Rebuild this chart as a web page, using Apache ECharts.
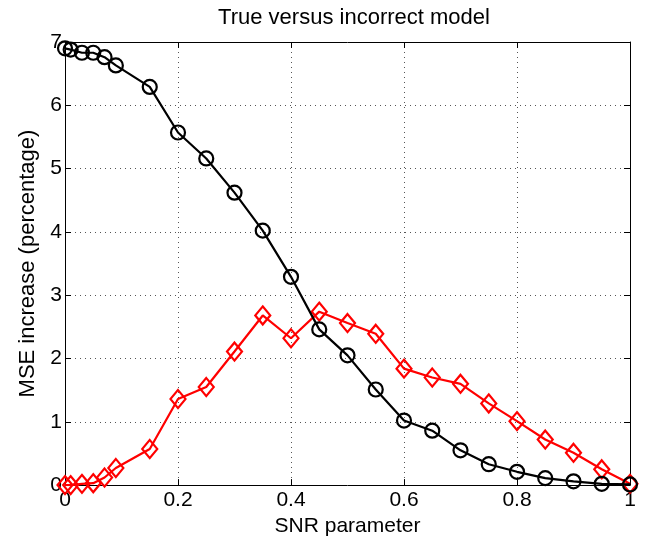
<!DOCTYPE html>
<html><head><meta charset="utf-8">
<script src="https://cdn.jsdelivr.net/npm/echarts@6/dist/echarts.min.js"></script>
<style>html,body{margin:0;padding:0;background:#fff}#c{width:645px;height:542px}</style>
</head><body><div id="c"></div>
<script>
const snr = [0, 0.01, 0.03, 0.05, 0.07, 0.09, 0.15, 0.2, 0.25, 0.3, 0.35, 0.4, 0.45, 0.5, 0.55, 0.6, 0.65, 0.7, 0.75, 0.8, 0.85, 0.9, 0.95, 1.0];
const trueModel = [6.90, 6.88, 6.83, 6.83, 6.76, 6.63, 6.29, 5.57, 5.16, 4.62, 4.02, 3.29, 2.46, 2.05, 1.51, 1.02, 0.86, 0.55, 0.33, 0.21, 0.11, 0.06, 0.02, 0.01];
const wrongModel = [0.00, 0.00, 0.02, 0.03, 0.12, 0.27, 0.57, 1.36, 1.55, 2.11, 2.68, 2.32, 2.74, 2.56, 2.39, 1.84, 1.70, 1.60, 1.29, 1.01, 0.72, 0.51, 0.25, 0.02];
const xTicks = [0, 0.2, 0.4, 0.6, 0.8, 1];

const font = 'Liberation Sans, Helvetica, Arial, sans-serif';
const chart = echarts.init(document.getElementById('c'));
const pair = (xs, ys) => xs.map((x, i) => [x, ys[i]]);
const diamond = 'path://M0,-1L0.8,0L0,1L-0.8,0Z';
chart.setOption({
  animation: false,
  title: { text: 'True versus incorrect model', left: 349, top: 2, textAlign: 'center',
    textStyle: { fontFamily: font, fontSize: 22, fontWeight: 'normal', color: '#000' } },
  grid: { left: 65, right: 15, top: 42, bottom: 54, containLabel: false },
  xAxis: [{
    type: 'value', min: 0, max: 1, interval: 0.2,
    name: 'SNR parameter', nameLocation: 'middle', nameGap: 30,
    nameTextStyle: { fontFamily: font, fontSize: 21, color: '#000' },
    axisLine: { onZero: false, lineStyle: { color: '#000', width: 1 } },
    axisTick: { inside: true, length: 6, lineStyle: { color: '#000' } },
    axisLabel: { fontFamily: font, fontSize: 21, color: '#000', margin: 5,
      formatter: v => String(+v.toFixed(1)) },
    splitLine: { show: true, lineStyle: { color: '#555', type: [1, 4], width: 1 } }
  }, {
    type: 'value', min: 0, max: 1, interval: 0.2, position: 'top',
    axisLine: { onZero: false, lineStyle: { color: '#000', width: 1 } },
    axisTick: { inside: true, length: 6, lineStyle: { color: '#000' } },
    axisLabel: { show: false }, splitLine: { show: false }
  }],
  yAxis: [{
    type: 'value', min: 0, max: 7, interval: 1,
    name: 'MSE increase (percentage)', nameLocation: 'middle', nameGap: 19,
    nameTextStyle: { fontFamily: font, fontSize: 22, color: '#000' },
    axisLine: { show: true, onZero: false, lineStyle: { color: '#000', width: 1 } },
    axisTick: { show: true, inside: true, length: 6, lineStyle: { color: '#000' } },
    axisLabel: { fontFamily: font, fontSize: 21, color: '#000', margin: 3 },
    splitLine: { show: true, lineStyle: { color: '#555', type: [1, 4], width: 1 } }
  }, {
    type: 'value', min: 0, max: 7, interval: 1, position: 'right',
    axisLine: { show: true, onZero: false, lineStyle: { color: '#000', width: 1 } },
    axisTick: { show: true, inside: true, length: 6, lineStyle: { color: '#000' } },
    axisLabel: { show: false }, splitLine: { show: false }
  }],
  series: [{
    type: 'line', data: pair(snr, trueModel), symbol: 'circle', symbolSize: 14,
    lineStyle: { color: '#000', width: 2.2 },
    itemStyle: { color: 'rgba(0,0,0,0)', borderColor: '#000', borderWidth: 2.2 },
    z: 3
  }, {
    type: 'line', data: pair(snr, wrongModel), symbol: diamond, symbolSize: [15, 18],
    lineStyle: { color: '#ff0000', width: 2.2 },
    itemStyle: { color: 'rgba(0,0,0,0)', borderColor: '#ff0000', borderWidth: 2.2 },
    z: 2
  }]
});
</script></body></html>
